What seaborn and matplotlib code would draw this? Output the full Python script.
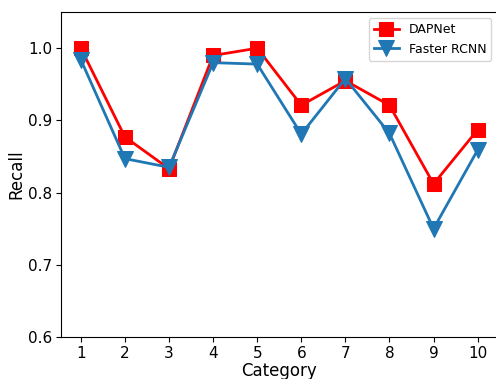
import seaborn as sns
import matplotlib.pyplot as plt
import pandas as pd

# data
category = [1, 2, 3, 4, 5, 6, 7, 8, 9, 10]
dapnet = [1.000, 0.877, 0.833, 0.990, 1.000, 0.921, 0.955, 0.921, 0.812, 0.887]
faster_rcnn = [0.984, 0.847, 0.835, 0.980, 0.978, 0.881, 0.958, 0.882, 0.750, 0.859]

df = pd.DataFrame({'Category': category, 'DAPNet': dapnet, 'Faster RCNN': faster_rcnn})

fig = plt.figure(figsize=(4.96, 3.79), dpi=100)
ax = fig.add_axes([0.123, 0.111, 0.88, 0.857])

sns.lineplot(data=df, x='Category', y='DAPNet', ax=ax, color='red', marker='s',
             markersize=10, markeredgecolor='red', linewidth=2, label='DAPNet')
sns.lineplot(data=df, x='Category', y='Faster RCNN', ax=ax, color='#1f77b4', marker='v',
             markersize=12, markeredgecolor='#1f77b4', linewidth=2, label='Faster RCNN')

ax.set_ylim(0.6, 1.05)
ax.set_xlim(0.55, 10.45)
ax.set_xticks(category)
ax.set_yticks([0.6, 0.7, 0.8, 0.9, 1.0])
ax.tick_params(axis='both', labelsize=11, pad=3)
ax.set_xlabel('Category', fontsize=12, labelpad=1)
ax.set_ylabel('Recall', fontsize=12, labelpad=2)
ax.legend(loc='upper right', fontsize=9)

plt.savefig('out.png', dpi=100)
